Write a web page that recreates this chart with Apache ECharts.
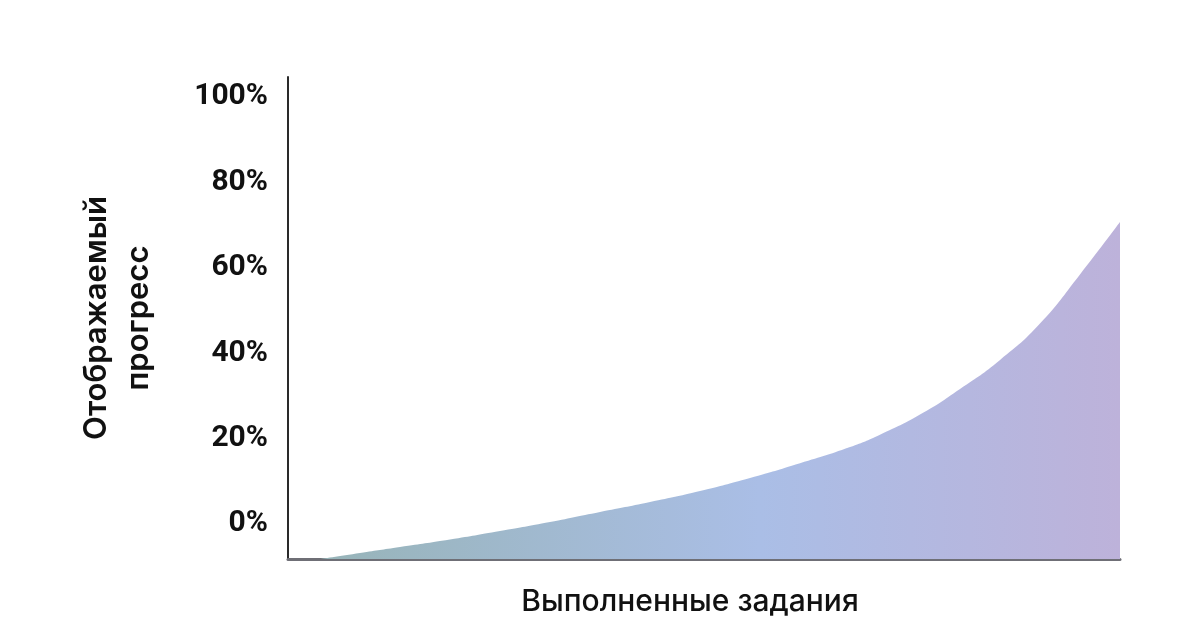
<!DOCTYPE html>
<html>
<head>
<meta charset="utf-8">
<script src="https://cdn.jsdelivr.net/npm/echarts@6/dist/echarts.min.js"></script>
<style>
html,body{margin:0;padding:0;background:#fff;}
#chart{width:1200px;height:640px;}
</style>
</head>
<body>
<div id="chart"></div>
<script>
// Data
var tasksDone = [3.85, 8.65, 13.46, 19.47, 25.48, 31.49, 37.5, 43.51, 49.52, 55.53, 61.54, 67.55, 71.15, 75.96, 80.77, 85.58, 90.38, 95.19, 100];
var shownProgress = [-8.2, -6.78, -5.38, -3.63, -1.64, 0.47, 2.81, 5.15, 7.72, 10.76, 14.2, 18.0, 20.9, 25.6, 31.6, 38.4, 46.9, 58.4, 70.64];
var yTickValues = [0, 20, 40, 60, 80, 100];
var xAxisTitle = 'Выполненные задания';
var yAxisTitle = 'Отображаемый\nпрогресс';

var seriesData = tasksDone.map(function (x, i) { return [x, shownProgress[i]]; });

var chart = echarts.init(document.getElementById('chart'));
chart.setOption({
  backgroundColor: '#ffffff',
  animation: false,
  grid: { left: 288, right: 80, top: 77, bottom: 81 },
  xAxis: {
    type: 'value',
    min: 0,
    max: 100,
    name: xAxisTitle,
    nameLocation: 'middle',
    nameGap: 28,
    nameTextStyle: {
      fontFamily: 'Inter, Roboto, sans-serif',
      fontSize: 30,
      fontWeight: 500,
      color: '#111',
      padding: [0, 28, 0, 0]
    },
    axisLine: { show: true, onZero: false, lineStyle: { color: '#6f6f76', width: 3 } },
    axisTick: { show: false },
    axisLabel: { show: false },
    splitLine: { show: false }
  },
  yAxis: {
    type: 'value',
    min: -8.2,
    max: 104.6,
    name: yAxisTitle,
    nameLocation: 'middle',
    nameGap: 128,
    nameTextStyle: {
      fontFamily: 'Inter, Roboto, sans-serif',
      fontSize: 31,
      fontWeight: 600,
      color: '#111',
      lineHeight: 42
    },
    axisLine: { show: true, lineStyle: { color: '#2a2a2a', width: 2 } },
    axisTick: { show: false },
    splitLine: { show: false },
    axisLabel: {
      customValues: yTickValues,
      formatter: '{value}%',
      margin: 20,
      fontFamily: 'Roboto, sans-serif',
      fontSize: 30,
      fontWeight: 'bold',
      color: '#111'
    }
  },
  series: [{
    type: 'line',
    data: seriesData,
    smooth: 0.5,
    showSymbol: false,
    lineStyle: { width: 0 },
    areaStyle: {
      origin: 'start',
      opacity: 1,
      color: new echarts.graphic.LinearGradient(0, 0, 1, 0, [
        { offset: 0, color: '#97b4b8' },
        { offset: 0.55, color: '#aabee6' },
        { offset: 1, color: '#bdb2da' }
      ], false)
    }
  }]
});
</script>
</body>
</html>
